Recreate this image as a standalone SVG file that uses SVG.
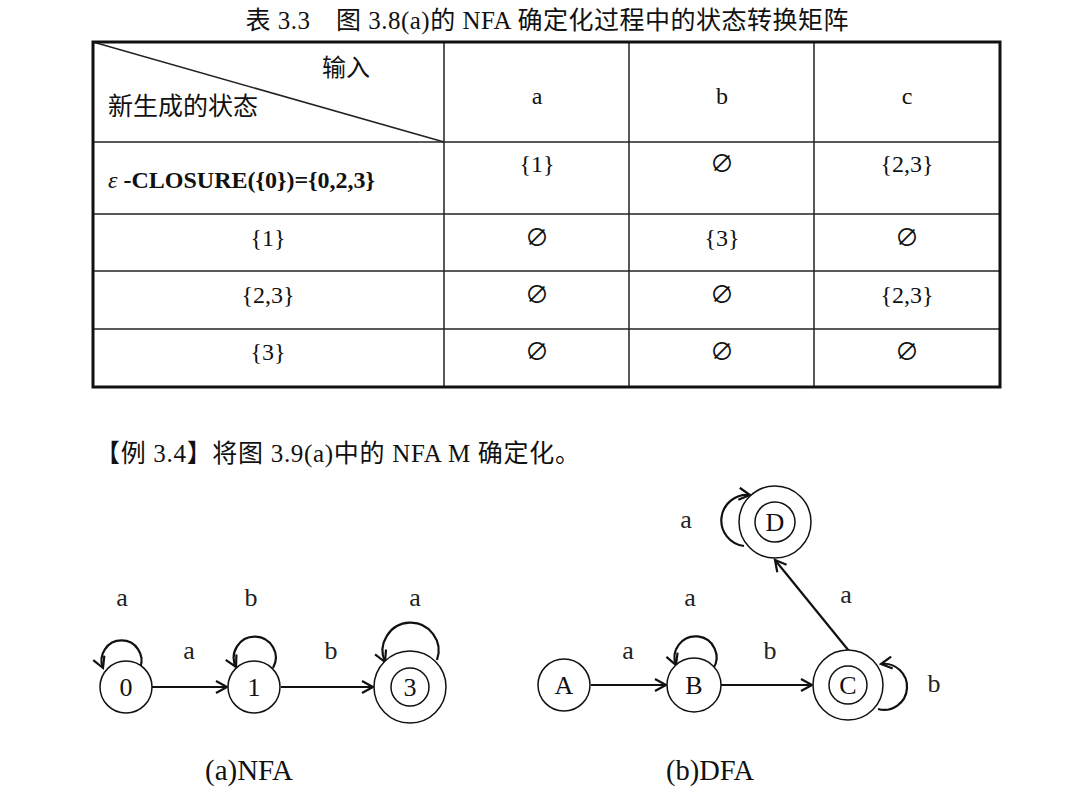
<svg xmlns="http://www.w3.org/2000/svg" width="1086" height="793" viewBox="0 0 1086 793">
<style>
.t{font-family:"Liberation Serif","Noto Sans CJK SC",serif;fill:#111}
.c{font-family:"Liberation Serif","Noto Sans CJK SC",serif;font-size:24px;text-anchor:middle;fill:#111}
.lbl{font-family:"Liberation Serif",serif;font-size:26px;text-anchor:middle;fill:#222}
.grid{stroke:#222;stroke-width:1.5;fill:none}
.node{fill:#fff;stroke:#111;stroke-width:1.5}
.edge{fill:none;stroke:#111;stroke-width:2.2}
.nt{font-family:"Liberation Serif",serif;font-size:26px;text-anchor:middle;fill:#111}
</style>
<defs>
<marker id="arr" markerUnits="userSpaceOnUse" markerWidth="16" markerHeight="16" refX="12" refY="7" orient="auto">
<path d="M1,1 L12,7 L1,13" fill="none" stroke="#111" stroke-width="2.2"/>
</marker>
</defs>
<rect width="1086" height="793" fill="#fff"/>
<text class="t" x="547" y="29" font-size="25" text-anchor="middle" textLength="603" lengthAdjust="spacing">表 3.3　图 3.8(a)的 NFA 确定化过程中的状态转换矩阵</text>
<g id="table">
<line class="grid" x1="444" y1="42" x2="444" y2="387"/>
<line class="grid" x1="629" y1="42" x2="629" y2="387"/>
<line class="grid" x1="814" y1="42" x2="814" y2="387"/>
<line class="grid" x1="93" y1="142" x2="1000" y2="142"/>
<line class="grid" x1="93" y1="214" x2="1000" y2="214"/>
<line class="grid" x1="93" y1="271" x2="1000" y2="271"/>
<line class="grid" x1="93" y1="329" x2="1000" y2="329"/>
<line class="grid" x1="93" y1="42" x2="444" y2="142"/>
<rect x="93" y="42" width="907" height="345" fill="none" stroke="#111" stroke-width="3"/>
<text class="t" x="346" y="76" font-size="24" text-anchor="middle">输入</text>
<text class="t" x="108" y="115" font-size="25">新生成的状态</text>
<text class="c" x="537" y="104">a</text>
<text class="c" x="722" y="104">b</text>
<text class="c" x="907" y="104">c</text>
<text class="t" x="108" y="188" font-size="24" font-weight="bold"><tspan font-style="italic" font-weight="normal">ε</tspan> -CLOSURE({0})={0,2,3}</text>
<text class="c" x="537" y="172">{1}</text>
<text class="c" x="722" y="172">∅</text>
<text class="c" x="907" y="172">{2,3}</text>
<text class="c" x="268" y="246">{1}</text>
<text class="c" x="537" y="246">∅</text>
<text class="c" x="722" y="246">{3}</text>
<text class="c" x="907" y="246">∅</text>
<text class="c" x="268" y="303">{2,3}</text>
<text class="c" x="537" y="303">∅</text>
<text class="c" x="722" y="303">∅</text>
<text class="c" x="907" y="303">{2,3}</text>
<text class="c" x="268" y="360">{3}</text>
<text class="c" x="537" y="360">∅</text>
<text class="c" x="722" y="360">∅</text>
<text class="c" x="907" y="360">∅</text>
</g>
<text class="t" x="95" y="462" font-size="25" textLength="485" lengthAdjust="spacing">【例 3.4】将图 3.9(a)中的 NFA M 确定化。</text>
<g id="connectors">
<line class="edge" x1="152" y1="687" x2="227" y2="687" marker-end="url(#arr)"/>
<line class="edge" x1="281" y1="687" x2="373" y2="687" marker-end="url(#arr)"/>
<path class="edge" d="M140,668 A20,20 0 1 0 103,668" marker-end="url(#arr)"/>
<path class="edge" d="M273,668 A21,21 0 1 0 236,667" marker-end="url(#arr)"/>
<path class="edge" d="M437,660 A28,28 0 1 0 385,662" marker-end="url(#arr)"/>
<line class="edge" x1="591" y1="685" x2="666" y2="685" marker-end="url(#arr)"/>
<line class="edge" x1="721" y1="685" x2="812" y2="685" marker-end="url(#arr)"/>
<line class="edge" x1="849" y1="651" x2="775" y2="560" marker-end="url(#arr)"/>
<path class="edge" d="M713,669 A21,21 0 1 0 676,665" marker-end="url(#arr)"/>
<path class="edge" d="M878,709 A23,23 0 1 0 881,664" marker-end="url(#arr)"/>
<path class="edge" d="M744,546 A24,24 0 1 1 750,495" marker-end="url(#arr)"/>
</g>
<g id="n0"><circle class="node" cx="126" cy="687" r="26"/><text class="nt" x="126" y="696">0</text></g>
<g id="n1"><circle class="node" cx="254" cy="687" r="26"/><text class="nt" x="254" y="696">1</text></g>
<g id="n3"><circle class="node" cx="410" cy="687" r="36"/><circle class="node" cx="410" cy="687" r="19"/><text class="nt" x="410" y="696">3</text></g>
<g id="nA"><circle class="node" cx="564" cy="685" r="26"/><text class="nt" x="564" y="694">A</text></g>
<g id="nB"><circle class="node" cx="694" cy="685" r="27"/><text class="nt" x="694" y="694">B</text></g>
<g id="nC"><circle class="node" cx="848" cy="685" r="35"/><circle class="node" cx="848" cy="685" r="19"/><text class="nt" x="848" y="694">C</text></g>
<g id="nD"><circle class="node" cx="775" cy="522" r="36"/><circle class="node" cx="775" cy="522" r="20"/><text class="nt" x="775" y="531">D</text></g>
<g id="labels">
<text class="lbl" x="122" y="606">a</text>
<text class="lbl" x="251" y="606">b</text>
<text class="lbl" x="415" y="606">a</text>
<text class="lbl" x="189" y="659">a</text>
<text class="lbl" x="331" y="659">b</text>
<text class="lbl" x="686" y="528">a</text>
<text class="lbl" x="690" y="606">a</text>
<text class="lbl" x="628" y="659">a</text>
<text class="lbl" x="770" y="659">b</text>
<text class="lbl" x="846" y="603">a</text>
<text class="lbl" x="934" y="692">b</text>
<text class="t" x="205" y="780" font-size="30" textLength="88" lengthAdjust="spacingAndGlyphs">(a)NFA</text>
<text class="t" x="666" y="780" font-size="30" textLength="88" lengthAdjust="spacingAndGlyphs">(b)DFA</text>
</g>
</svg>
